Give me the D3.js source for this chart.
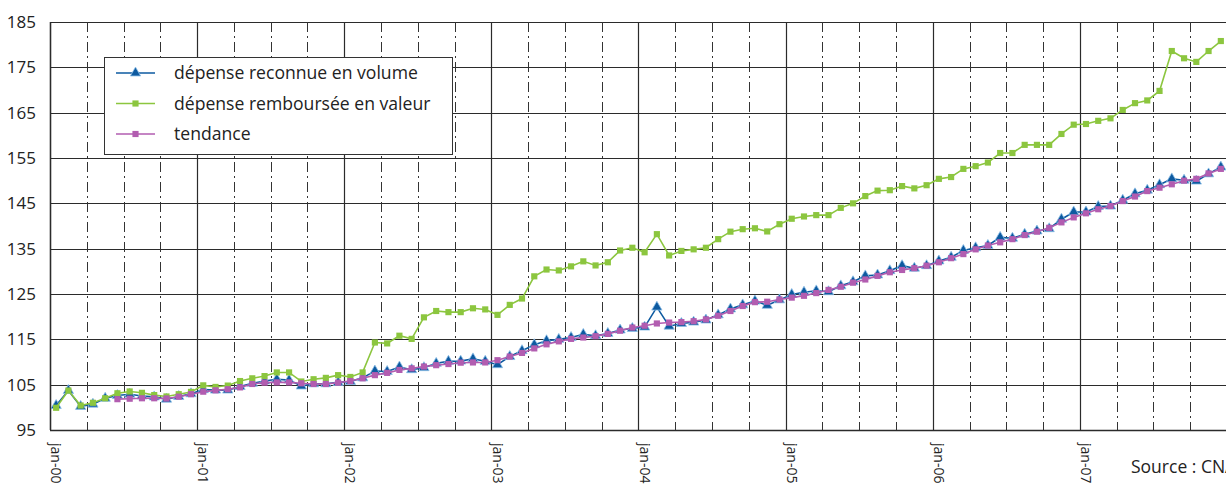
<!DOCTYPE html>
<html>
<head>
<meta charset="utf-8">
<script src="https://cdn.jsdelivr.net/npm/d3@7"></script>
<style>
  body { margin: 0; background: #fff; }
  svg { display: block; font-family: "Open Sans", sans-serif; }
</style>
</head>
<body>
<svg width="1226" height="484"></svg>
<script>
var years = ["00", "01", "02", "03", "04", "05", "06", "07"];
var monthNames = ["jan", "fév", "mar", "avr", "mai", "jun", "jul", "aoû", "sep", "oct", "nov", "déc"];
var yTicks = [95, 105, 115, 125, 135, 145, 155, 165, 175, 185];

// dépense reconnue en volume
var volume = [100.4, 103.7, 100.2, 100.7, 102.0, 102.6, 102.9, 102.5, 102.3, 101.8, 102.4, 103.0,
    103.9, 103.8, 103.8, 104.6, 105.3, 105.8, 106.2, 106.0, 104.7, 105.2, 105.2, 105.5,
    105.7, 106.5, 108.0, 107.9, 108.9, 108.3, 108.75, 109.7, 110.15, 110.2, 110.7, 110.15,
    109.4, 111.2, 112.5, 113.8, 114.7, 115.0, 115.4, 116.1, 115.8, 116.3, 117.05, 117.4,
    117.7, 122.1, 117.9, 118.5, 118.8, 119.25, 120.4, 121.7, 122.6, 123.45, 122.5, 123.7,
    124.9, 125.4, 125.7, 125.5, 126.8, 127.7, 129.0, 129.2, 130.15, 131.25, 130.7, 131.25,
    132.3, 133.1, 134.6, 135.2, 135.7, 137.5, 137.3, 138.2, 138.9, 139.4, 141.5, 143.1,
    143.1, 144.3, 144.4, 145.7, 147.1, 147.9, 149.1, 150.4, 150.1, 149.9, 151.5, 153.0];

// dépense remboursée en valeur
var valeur = [99.9, 103.7, 100.4, 101.0, 102.0, 103.1, 103.5, 103.2, 102.7, 102.4, 102.9, 103.4,
    104.85, 104.5, 104.8, 105.8, 106.4, 106.9, 107.7, 107.7, 105.7, 106.2, 106.5, 107.1,
    106.7, 107.7, 114.3, 114.1, 115.8, 115.1, 119.85, 121.25, 121.0, 121.0, 121.85, 121.6,
    120.4, 122.6, 124.0, 128.9, 130.4, 130.2, 131.1, 132.2, 131.3, 132.0, 134.6, 135.2,
    134.2, 138.2, 133.5, 134.5, 134.85, 135.2, 137.1, 138.75, 139.3, 139.5, 138.8, 140.4,
    141.6, 142.1, 142.4, 142.4, 144.0, 145.0, 146.6, 147.8, 147.9, 148.8, 148.3, 149.0,
    150.4, 150.8, 152.6, 153.2, 154.0, 156.1, 156.1, 157.9, 157.9, 157.9, 160.3, 162.35,
    162.5, 163.2, 163.75, 165.6, 167.1, 167.7, 169.8, 178.6, 177.0, 176.2, 178.6, 180.8];

// tendance
var tendance = [null, null, null, null, null, 101.8, 101.9, 102.0, 102.0, 101.95, 102.35, 102.9,
    103.45, 103.75, 104.0, 104.4, 105.15, 105.45, 105.5, 105.5, 105.3, 105.15, 105.15, 105.45,
    105.8, 106.4, 107.1, 107.6, 108.25, 108.6, 109.0, 109.3, 109.55, 109.85, 109.9, 109.9,
    110.4, 111.2, 112.0, 113.0, 113.9, 114.55, 115.1, 115.4, 115.7, 116.2, 116.9, 117.6,
    118.0, 118.5, 118.7, 118.8, 119.0, 119.4, 120.2, 121.25, 122.35, 123.2, 123.3, 123.8,
    124.2, 124.6, 125.2, 125.9, 126.6, 127.5, 128.2, 129.0, 129.8, 130.3, 130.7, 131.25,
    132.0, 132.9, 133.8, 134.85, 135.7, 136.4, 137.1, 138.0, 138.75, 139.6, 140.8, 141.9,
    142.8, 143.7, 144.4, 145.5, 146.5, 147.7, 148.45, 149.2, 150.0, 150.4, 151.6, 152.6];

var categories = [];
years.forEach(function(y) {
    monthNames.forEach(function(m) { categories.push(m + "-" + y); });
});

var svg = d3.select("svg"),
    plotLeft = 50,
    plotTop = 22,
    plotBottom = 430,
    plotRight = plotLeft + categories.length * 12.26;

var x = d3.scaleBand().domain(categories).range([plotLeft, plotRight]);
var y = d3.scaleLinear().domain([95, 185]).range([plotBottom, plotTop]);

var series = [
    {name: "dépense reconnue en volume", values: volume, color: "#0d5aa0", marker: "triangle"},
    {name: "dépense remboursée en valeur", values: valeur, color: "#8cc63f", marker: "square"},
    {name: "tendance", values: tendance, color: "#b25db0", marker: "square"}
];

// grid : horizontal lines
svg.append("g").selectAll("line")
    .data(yTicks)
    .enter().append("line")
    .attr("x1", plotLeft).attr("x2", plotRight)
    .attr("y1", function(d) { return Math.round(y(d)) + 0.5; })
    .attr("y2", function(d) { return Math.round(y(d)) + 0.5; })
    .attr("stroke", "#2b2b2b")
    .attr("stroke-width", 1.2);

// grid : vertical lines every quarter, solid at january
var quarters = categories.filter(function(d, i) { return i % 3 == 0; });
svg.append("g").selectAll("line")
    .data(quarters)
    .enter().append("line")
    .attr("x1", function(d) { return Math.round(x(d)) + 0.5; })
    .attr("x2", function(d) { return Math.round(x(d)) + 0.5; })
    .attr("y1", plotTop).attr("y2", plotBottom)
    .attr("stroke", function(d) { return d.indexOf("jan") == 0 ? "#2b2b2b" : "#333"; })
    .attr("stroke-width", function(d) { return d.indexOf("jan") == 0 ? 1.2 : 1; })
    .attr("stroke-dasharray", function(d) { return d.indexOf("jan") == 0 ? null : "10,4,2,4"; });

// y axis labels
svg.append("g").selectAll("text")
    .data(yTicks)
    .enter().append("text")
    .attr("x", 36)
    .attr("y", function(d) { return y(d); })
    .attr("dy", "0.36em")
    .attr("text-anchor", "end")
    .attr("font-size", 17)
    .attr("fill", "#222")
    .text(function(d) { return d; });

// x axis labels (january only)
svg.append("g").selectAll("text")
    .data(categories.filter(function(d) { return d.indexOf("jan") == 0; }))
    .enter().append("text")
    .attr("transform", function(d) {
        return "translate(" + (x(d) + x.bandwidth() / 2) + ",443) rotate(90)";
    })
    .attr("dy", "0.35em")
    .attr("font-size", 14)
    .attr("fill", "#222")
    .text(function(d) { return d; });

var line = d3.line()
    .defined(function(d) { return d != null; })
    .x(function(d, i) { return x(categories[i]) + x.bandwidth() / 2; })
    .y(function(d) { return y(d); });

var tri = d3.symbol().type(d3.symbolTriangle).size(46);
var sq = d3.symbol().type(d3.symbolSquare).size(38);

function drawMarker(sel, s) {
    if (s.marker == "triangle") {
        sel.append("path")
            .attr("d", tri)
            .attr("fill", s.color)
            .attr("stroke", "#8fc0e8")
            .attr("stroke-width", 0.8);
    } else {
        sel.append("path")
            .attr("d", sq)
            .attr("fill", s.color);
    }
}

series.forEach(function(s) {
    var g = svg.append("g");
    g.append("path")
        .datum(s.values)
        .attr("d", line)
        .attr("fill", "none")
        .attr("stroke", s.color)
        .attr("stroke-width", 1.6);

    var pts = g.selectAll("g.pt")
        .data(s.values.map(function(v, i) { return {v: v, i: i}; }).filter(function(d) { return d.v != null; }))
        .enter().append("g")
        .attr("class", "pt")
        .attr("transform", function(d) {
            return "translate(" + (x(categories[d.i]) + x.bandwidth() / 2) + "," + y(d.v) + ")";
        });
    drawMarker(pts, s);
});

// frame
svg.append("line")
    .attr("x1", plotLeft + 0.5).attr("x2", plotLeft + 0.5)
    .attr("y1", plotTop).attr("y2", plotBottom)
    .attr("stroke", "#2b2b2b").attr("stroke-width", 1.4);
svg.append("line")
    .attr("x1", plotLeft).attr("x2", plotRight)
    .attr("y1", plotBottom + 0.5).attr("y2", plotBottom + 0.5)
    .attr("stroke", "#2b2b2b").attr("stroke-width", 1.4);

// legend
var legend = svg.append("g").attr("transform", "translate(104,57)");
legend.append("rect")
    .attr("x", 0.5).attr("y", 0.5)
    .attr("width", 348).attr("height", 97)
    .attr("fill", "#fff")
    .attr("stroke", "#333")
    .attr("stroke-width", 1);

var items = legend.selectAll("g.item")
    .data(series)
    .enter().append("g")
    .attr("class", "item")
    .attr("transform", function(d, i) { return "translate(0," + (16 + i * 30.5) + ")"; });

items.append("line")
    .attr("x1", 12).attr("x2", 51)
    .attr("stroke", function(d) { return d.color; })
    .attr("stroke-width", 1.6);

items.each(function(d) {
    var m = d3.select(this).append("g").attr("transform", "translate(31.5,0)");
    drawMarker(m, d);
});

items.append("text")
    .attr("x", 70)
    .attr("dy", "0.35em")
    .attr("font-size", 17.6)
    .attr("fill", "#222")
    .text(function(d) { return d.name; });

svg.append("text")
    .attr("x", 1131)
    .attr("y", 473)
    .attr("font-size", 17.5)
    .attr("fill", "#222")
    .text("Source : CNAMTS");
</script>
</body>
</html>
